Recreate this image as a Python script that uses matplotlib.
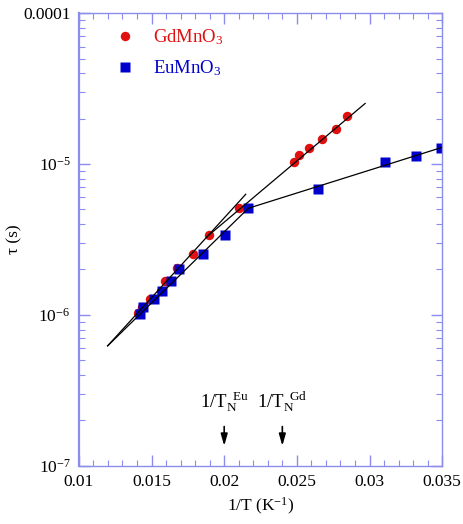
import matplotlib
matplotlib.use("Agg")
import matplotlib.pyplot as plt
from matplotlib.ticker import FixedLocator, FixedFormatter, MultipleLocator, LogLocator, NullFormatter

plt.rcParams["font.family"] = ["Liberation Serif", "DejaVu Serif"]
plt.rcParams["mathtext.fontset"] = "custom"
plt.rcParams["mathtext.rm"] = "Liberation Serif"
plt.rcParams["mathtext.it"] = "Liberation Serif:italic"
plt.rcParams["mathtext.bf"] = "Liberation Serif:bold"

# GdMnO3 relaxation time vs inverse temperature
gd_inv_t = [0.01408, 0.01436, 0.01489, 0.01563, 0.01592, 0.01673, 0.01783,
            0.01897, 0.02102, 0.02481, 0.02513, 0.02586, 0.02676, 0.02770, 0.02846]
gd_tau = [1.03e-6, 1.135e-6, 1.27e-6, 1.45e-6, 1.69e-6, 2.04e-6, 2.53e-6,
          3.39e-6, 5.14e-6, 1.026e-5, 1.14e-5, 1.28e-5, 1.47e-5, 1.71e-5, 2.07e-5]

# EuMnO3
eu_inv_t = [0.01420, 0.01439, 0.01519, 0.01574, 0.01636, 0.01691, 0.01856,
            0.02008, 0.02166, 0.02648, 0.03105, 0.03323, 0.03491]
eu_tau = [1.01e-6, 1.12e-6, 1.27e-6, 1.45e-6, 1.68e-6, 2.03e-6, 2.54e-6,
          3.39e-6, 5.09e-6, 6.83e-6, 1.026e-5, 1.135e-5, 1.28e-5]

# Arrhenius fit segments (end points)
gd_low_fit_x = [0.01198, 0.02148]
gd_low_fit_y = [6.24e-7, 6.30e-6]
gd_high_fit_x = [0.0188, 0.02970]
gd_high_fit_y = [3.29e-6, 2.52e-5]
eu_low_fit_x = [0.01198, 0.02166]
eu_low_fit_y = [6.24e-7, 5.09e-6]
eu_high_fit_x = [0.02166, 0.0350]
eu_high_fit_y = [5.09e-6, 1.29e-5]

# Neel temperatures marked with arrows
tn_inv = [0.020, 0.024]
tn_labels = [r"1/T$_{\mathrm{N}}^{\ \ \mathrm{Eu}}$", r"1/T$_{\mathrm{N}}^{\ \ \mathrm{Gd}}$"]

y_ticks = [1e-7, 1e-6, 1e-5, 1e-4]
y_tick_labels = [r"10$^{-7}$", r"10$^{-6}$", r"10$^{-5}$", "0.0001"]
x_ticks = [0.01, 0.015, 0.02, 0.025, 0.03, 0.035]
x_tick_labels = ["0.01", "0.015", "0.02", "0.025", "0.03", "0.035"]

RED = "#e01010"
BLUE = "#0000cc"
SPINE = "#8c8cec"

fig = plt.figure(figsize=(4.64, 5.24), dpi=100)
ax = fig.add_axes([0.170, 0.111, 0.783, 0.864])

fit_style = dict(color="black", lw=0.9, zorder=3)
ax.plot(gd_low_fit_x, gd_low_fit_y, **fit_style)
ax.plot(gd_high_fit_x, gd_high_fit_y, **fit_style)
ax.plot(eu_low_fit_x, eu_low_fit_y, **fit_style)
ax.plot(eu_high_fit_x, eu_high_fit_y, **fit_style)

ax.plot(gd_inv_t, gd_tau, "o", color=RED, ms=6.8, mec="none", zorder=2,
        label=r"GdMnO$_3$")
ax.plot(eu_inv_t, eu_tau, "s", color=BLUE, ms=6.8, mec="none", zorder=2,
        label=r"EuMnO$_3$")

ax.set_yscale("log")
ax.set_xlim(0.01, 0.035)
ax.set_ylim(1e-7, 1e-4)

ax.yaxis.set_major_locator(FixedLocator(y_ticks))
ax.yaxis.set_major_formatter(FixedFormatter(y_tick_labels))
ax.yaxis.set_minor_locator(LogLocator(base=10, subs=range(2, 10)))
ax.yaxis.set_minor_formatter(NullFormatter())
ax.xaxis.set_major_locator(FixedLocator(x_ticks))
ax.xaxis.set_major_formatter(FixedFormatter(x_tick_labels))
ax.xaxis.set_minor_locator(MultipleLocator(0.001))

ax.tick_params(which="both", direction="in", top=True, right=True,
               color=SPINE, labelsize=12.5, pad=6)
ax.tick_params(which="major", length=8, width=1)
ax.tick_params(which="minor", length=4, width=0.8)
for s in ax.spines.values():
    s.set_color(SPINE)
    s.set_linewidth(1.0)
ax.spines["left"].set_linewidth(1.6)

ax.set_xlabel(r"1/T (K$^{-1}$)", fontsize=12.5, labelpad=4)
ax.set_ylabel("τ (s)", fontsize=12.5)
ax.yaxis.set_label_coords(-0.155, 0.5)

for xv, lab in zip(tn_inv, tn_labels):
    ax.annotate("", xy=(xv, 1.3e-7), xytext=(xv, 1.9e-7),
                arrowprops=dict(arrowstyle="-|>,head_length=0.7,head_width=0.2",
                                color="black", lw=1.2))
    ax.text(xv, 2.2e-7, lab, ha="center", va="bottom", fontsize=13.5)

leg = ax.legend(loc="upper left", bbox_to_anchor=(0.085, 0.985), frameon=False,
                numpoints=1, handlelength=0.8, handletextpad=1.1,
                labelspacing=0.62, fontsize=13.5, borderaxespad=0)
for txt, c in zip(leg.get_texts(), [RED, BLUE]):
    txt.set_color(c)

fig.savefig("out.png", dpi=100)
